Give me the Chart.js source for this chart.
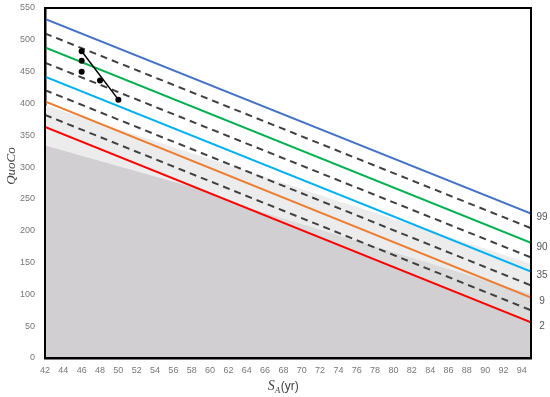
<!DOCTYPE html>
<html>
<head>
<meta charset="utf-8">
<script src="https://cdn.jsdelivr.net/npm/chart.js@4.4.1/dist/chart.umd.min.js"></script>
<style>
  html, body { margin: 0; padding: 0; background: #fff; }
</style>
</head>
<body>
<canvas id="quocoChart" width="550" height="397"></canvas>
<script>
// age range on x
const ages = [42, 95];

// centile lines (value at 42 and at 95)
const line99 = [533, 227];
const dash1 = [510, 204];
const line90 = [488, 181];
const dash2 = [464, 158];
const line35 = [442, 136];
const dash3 = [421, 114];
const line9 = [403, 95];
const dash4 = [382, 75];
const line2 = [363, 56];
const rightLabels = ['99', '90', '35', '9', '2'];

// shaded zones
const lightTop = [397, 148];
const midTop = [334, 100];
const darkAges = [42, 58.9, 95];
const darkTop = [334, 265, 56];

// observed points
const obsAge = [46, 46, 46, 48, 50];
const obsQuoco = [482, 467, 450, 436, 406];
const trendAge = [46, 50];
const trendQuoco = [482, 406];

const xTicksMin = 42, xTicksMax = 95, xStep = 2;
const yTicksMin = 0, yTicksMax = 550, yStep = 50;

const pts = (xs, ys) => xs.map((x, i) => ({ x: x, y: ys[i] }));

const solid = (data, color) => ({
  data: pts(ages, data), borderColor: color, borderWidth: 2,
  pointRadius: 0, fill: false, order: 5
});
const dashed = (data) => ({
  data: pts(ages, data), borderColor: '#404040', borderWidth: 2,
  borderDash: [7, 5], pointRadius: 0, fill: false, order: 5
});
const area = (xs, data, color, order) => ({
  data: pts(xs, data), borderWidth: 0, borderColor: 'rgba(0,0,0,0)',
  backgroundColor: color, pointRadius: 0, fill: 'origin', order: order
});

const datasets = [
  area(ages, lightTop, '#ececec', 30),
  area(ages, midTop, '#dcdbdc', 20),
  area(darkAges, darkTop, '#d1cfd1', 10),
  solid(line99, '#4472c4'),
  dashed(dash1),
  solid(line90, '#00b050'),
  dashed(dash2),
  solid(line35, '#00b0f0'),
  dashed(dash3),
  solid(line9, '#ed7d31'),
  dashed(dash4),
  solid(line2, '#ff0000'),
  {
    data: pts(trendAge, trendQuoco), borderColor: '#000', borderWidth: 1.5,
    pointRadius: 0, fill: false, order: 1
  },
  {
    data: pts(obsAge, obsQuoco), showLine: false, borderColor: '#000',
    backgroundColor: '#000', pointRadius: 3, pointBorderWidth: 0, order: 0
  }
];

// dataset index -> right label
const labelled = [3, 5, 7, 9, 11];

const extras = {
  id: 'extras',
  afterDraw(chart) {
    const ctx = chart.ctx;
    const a = chart.chartArea;
    ctx.save();
    // frame
    ctx.strokeStyle = '#000';
    ctx.lineWidth = 2;
    ctx.strokeRect(a.left, a.top, a.right - a.left, a.bottom - a.top);

    // right labels
    ctx.fillStyle = '#555';
    ctx.font = '10px "Liberation Sans"';
    ctx.textAlign = 'center';
    ctx.textBaseline = 'middle';
    labelled.forEach((di, i) => {
      const meta = chart.getDatasetMeta(di);
      const p = meta.data[meta.data.length - 1];
      ctx.fillText(rightLabels[i], a.right + 11, p.y + 4);
    });

    // y title
    ctx.save();
    ctx.translate(12, 166);
    ctx.rotate(-Math.PI / 2);
    ctx.font = 'italic 13px "Liberation Serif"';
    ctx.fillStyle = '#404040';
    ctx.textAlign = 'center';
    ctx.fillText('QuoCo', 0, 0);
    ctx.restore();

    // x title: S_A(yr)
    ctx.fillStyle = '#404040';
    ctx.textAlign = 'left';
    ctx.textBaseline = 'alphabetic';
    const fS = 'italic 14px "Liberation Serif"';
    const fA = 'italic 9px "Liberation Serif"';
    const fU = '12px "Liberation Sans"';
    ctx.font = fS; const wS = ctx.measureText('S').width;
    ctx.font = fA; const wA = ctx.measureText('A').width;
    ctx.font = fU; const wU = ctx.measureText('(yr)').width;
    let x = 283 - (wS + wA + wU) / 2;
    const base = 390;
    ctx.font = fS; ctx.fillText('S', x, base); x += wS;
    ctx.font = fA; ctx.fillText('A', x, base + 3); x += wA + 0.5;
    ctx.font = fU; ctx.fillText('(yr)', x, base);
    ctx.restore();
  }
};

new Chart(document.getElementById('quocoChart').getContext('2d'), {
  type: 'line',
  data: { datasets: datasets },
  options: {
    responsive: false,
    animation: false,
    layout: { padding: { top: 8, right: 19, left: 0, bottom: 0 } },
    plugins: { legend: { display: false }, tooltip: { enabled: false } },
    scales: {
      x: {
        type: 'linear', min: xTicksMin, max: xTicksMax,
        grid: { display: false, drawTicks: false },
        border: { display: true, color: '#000', width: 2.5 },
        ticks: {
          stepSize: xStep, includeBounds: false, padding: 7,
          color: '#777', font: { family: 'Liberation Sans', size: 9 }
        },
        afterFit(scale) {
          scale.height = 39;
          scale.paddingLeft = 0;
          scale.paddingRight = 0;
        }
      },
      y: {
        min: yTicksMin, max: yTicksMax,
        grid: { display: false, drawTicks: false },
        border: { display: true, color: '#000', width: 2.5 },
        ticks: {
          stepSize: yStep, padding: 10,
          color: '#777', font: { family: 'Liberation Sans', size: 9 }
        },
        afterFit(scale) {
          scale.width = 45;
          scale.paddingTop = 0;
          scale.paddingBottom = 0;
        }
      }
    }
  },
  plugins: [extras]
});
</script>
</body>
</html>
